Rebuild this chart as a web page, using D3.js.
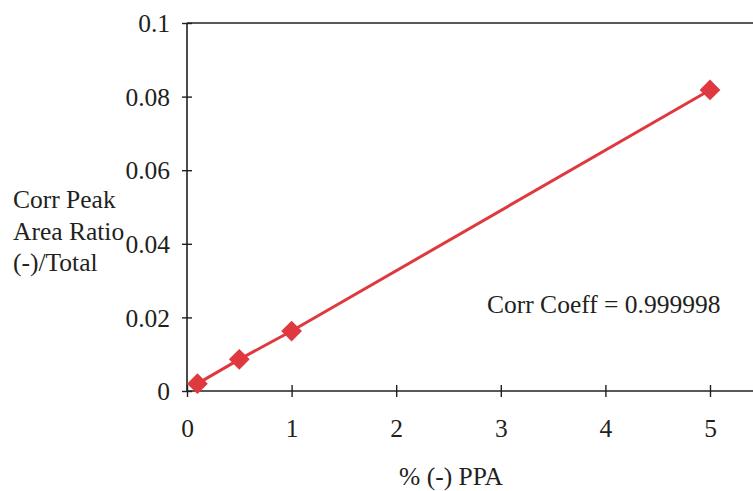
<!DOCTYPE html>
<html>
<head>
<meta charset="utf-8">
<script src="https://cdn.jsdelivr.net/npm/d3@7"></script>
<style>
  body { margin: 0; background: #fff; }
</style>
</head>
<body>
<svg id="chart" width="753" height="491"></svg>
<script>
/* Data */
const ppa = [0.1, 0.5, 1, 5];
const ratio = [0.0020, 0.0086, 0.0163, 0.0818];
const xTicks = [0, 1, 2, 3, 4, 5];
const yTicks = [0, 0.02, 0.04, 0.06, 0.08, 0.1];
const yLabelLines = ['Corr Peak', 'Area Ratio', '(-)/Total'];
const xLabel = '% (-) PPA';
const note = 'Corr Coeff = 0.999998';

const red = '#e0383f';
const ink = '#231f20';
const font = '"Liberation Serif"';
const fontSize = '25.5px';

const svg = d3.select('#chart');

/* Scales: x runs past the right edge of the picture, as in the original */
const x = d3.scaleLinear().domain([0, 6]).range([187, 187 + 6 * 104.6]);
const y = d3.scaleLinear().domain([0, 0.1]).range([391, 23]);

/* Top frame line */
svg.append('line')
  .attr('x1', x(0)).attr('x2', 753)
  .attr('y1', y(0.1)).attr('y2', y(0.1))
  .attr('stroke', ink).attr('stroke-width', 1.6);

/* Axes with ticks crossing the axis line */
const xAxis = svg.append('g')
  .attr('transform', `translate(0,${y(0)})`)
  .call(d3.axisBottom(x).tickValues(xTicks).tickSize(0).tickFormat(d3.format('d')));
xAxis.select('.domain').remove();
xAxis.append('line')
  .attr('x1', x(0)).attr('x2', 753)
  .attr('stroke', ink).attr('stroke-width', 1.6);
xAxis.selectAll('.tick').append('line')
  .attr('y1', -6).attr('y2', 6)
  .attr('stroke', ink).attr('stroke-width', 1.4);
xAxis.selectAll('.tick text')
  .attr('y', 46).attr('dy', 0)
  .attr('fill', ink)
  .style('font-size', fontSize)
  .style('font-family', font);

const yAxis = svg.append('g')
  .attr('transform', `translate(${x(0)},0)`)
  .call(d3.axisLeft(y).tickValues(yTicks).tickSize(0).tickFormat(d => d === 0 ? '0' : String(+d.toFixed(2))));
yAxis.select('.domain').remove();
yAxis.append('line')
  .attr('y1', y(0)).attr('y2', y(0.1))
  .attr('stroke', ink).attr('stroke-width', 1.6);
yAxis.selectAll('.tick').append('line')
  .attr('x1', -5).attr('x2', 5)
  .attr('stroke', ink).attr('stroke-width', 1.4);
yAxis.selectAll('.tick text')
  .attr('x', -17).attr('dy', '0.34em')
  .attr('fill', ink)
  .style('font-size', fontSize)
  .style('font-family', font);

/* Series line and diamond markers */
const points = ppa.map((v, i) => ({ x: v, y: ratio[i] }));

svg.append('path')
  .datum(points)
  .attr('fill', 'none')
  .attr('stroke', red)
  .attr('stroke-width', 3)
  .attr('d', d3.line().x(d => x(d.x)).y(d => y(d.y)));

svg.append('g')
  .selectAll('path')
  .data(points)
  .join('path')
  .attr('transform', d => `translate(${x(d.x)},${y(d.y)}) rotate(45)`)
  .attr('d', d3.symbol().type(d3.symbolSquare).size(215))
  .attr('fill', red);

/* Labels */
svg.append('text')
  .attr('x', 451).attr('y', 485)
  .attr('text-anchor', 'middle')
  .attr('fill', ink)
  .style('font-size', fontSize)
  .style('font-family', font)
  .text(xLabel);

svg.append('text')
  .attr('fill', ink)
  .style('font-size', fontSize)
  .style('font-family', font)
  .selectAll('tspan')
  .data(yLabelLines)
  .join('tspan')
  .attr('x', 13)
  .attr('y', (d, i) => 208 + i * 31.5)
  .text(d => d);

svg.append('text')
  .attr('x', 487).attr('y', 313)
  .attr('fill', ink)
  .style('font-size', fontSize)
  .style('font-family', font)
  .text(note);
</script>
</body>
</html>
